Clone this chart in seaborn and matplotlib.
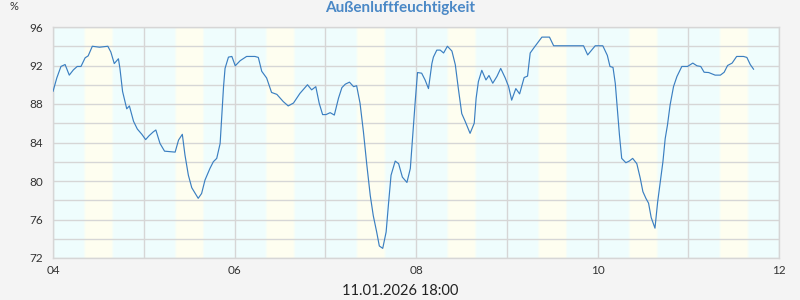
import numpy as np
import pandas as pd
import matplotlib
matplotlib.use("Agg")
import matplotlib.pyplot as plt
import matplotlib.colors as mcolors
import seaborn as sns

# ---- data (hours after 04.01. 00:00, relative humidity %) ----
hours = [0, 1, 2.1, 3.2, 4.3, 5.4, 6.4, 7.4, 8.5, 9.3, 10.4, 12.3, 14.5, 15.3, 16.2, 17.3, 17.7, 18.4,
         19.5, 20.2, 21.3, 22.3, 23.5, 24.5, 25.4, 26.5, 27.2, 28.3, 29.5, 32.3, 33.2, 34.2, 34.9, 35.8,
         36.7, 38.4, 39.3, 40.2, 41.5, 42.4, 43.3, 44.2, 44.6, 45.1, 45.5, 46.4, 47.3, 48.2, 49.5, 51.2,
         53.4, 54.3, 55.2, 56.5, 57.8, 59.2, 60.9, 62.2, 63.6, 65.3, 67.3, 68.4, 69.5, 70.4, 71.3, 72.2,
         73.3, 74.4, 75.5, 76.4, 77.3, 78.4, 79.5, 80.3, 81.2, 82.1, 83.0, 83.9, 84.7, 85.6, 86.3, 87.2,
         88.1, 88.7, 89.4, 90.5, 91.4, 92.4, 93.6, 94.5, 95.2, 95.8, 96.4, 97.5, 98.4, 99.3, 100.2, 100.6,
         101.5, 102.4, 103.3, 104.3, 105.5, 106.4, 107.2, 108.1, 109.0, 110.3, 111.4, 111.9, 112.5, 113.4,
         114.5, 115.3, 116.3, 117.4, 118.4, 119.6, 120.5, 121.3, 122.4, 123.4, 124.6, 125.5, 126.2, 127.3,
         129.3, 131.3, 132.4, 140.3, 141.4, 143.4, 145.4, 146.6, 147.3, 148.1, 148.7, 149.3, 149.8, 150.4,
         151.5, 152.4, 153.3, 154.4, 155.3, 156.0, 156.8, 157.5, 158.2, 159.2, 159.9, 160.6, 161.3, 161.9,
         162.5, 163.2, 164.1, 165.0, 166.3, 167.8, 169.2, 170.3, 171.3, 172.2, 173.4, 175.1, 176.5, 177.5,
         178.4, 179.6, 180.8, 182.6, 183.5, 184.4, 185.3]
humidity = [89.3, 90.7, 91.9, 92.1, 91.0, 91.55, 91.9, 91.9, 92.8, 93.0, 94.0, 93.9, 94.0, 93.4, 92.2, 92.7, 91.7, 89.3,
            87.5, 87.8, 86.2, 85.4, 84.85, 84.3, 84.7, 85.1, 85.3, 83.9, 83.1, 83.0, 84.25, 84.85, 82.7, 80.6,
            79.3, 78.2, 78.7, 80.1, 81.3, 82.0, 82.35, 83.9, 86.5, 89.8, 91.7, 92.87, 92.94, 91.97, 92.5, 92.94,
            92.94, 92.84, 91.4, 90.7, 89.2, 89.0, 88.25, 87.8, 88.1, 89.1, 90.0, 89.47, 89.8, 88.08, 86.9, 86.9,
            87.1, 86.85, 88.6, 89.7, 90.06, 90.27, 89.8, 89.9, 88.08, 85.1, 81.65, 78.5, 76.4, 74.7, 73.25, 73.0,
            74.7, 77.5, 80.6, 82.07, 81.8, 80.4, 79.85, 81.3, 85.1, 88.3, 91.27, 91.2, 90.5, 89.6, 92.2, 92.87,
            93.6, 93.6, 93.3, 94.0, 93.5, 92.07, 89.6, 87.0, 86.2, 84.95, 86.0, 88.6, 90.33, 91.5,
            90.5, 90.96, 90.16, 90.86, 91.7, 90.7, 89.8, 88.4, 89.6, 89.05, 90.75, 90.9, 93.3, 93.9,
            94.95, 94.95, 94.05, 94.05, 93.1, 94.05, 94.05, 93.05, 91.9, 91.8, 90.15, 87.2, 84.8, 82.35,
            81.9, 82.07, 82.35, 81.8, 80.3, 78.9, 78.2, 77.7, 76.2, 75.1, 77.8, 79.9, 82.0, 84.4,
            85.8, 87.9, 89.8, 90.85, 91.9, 91.9, 92.25, 91.97, 91.9, 91.3, 91.27, 91.0, 91.0, 91.3,
            92.0, 92.25, 92.94, 92.94, 92.84, 92.1, 91.6]

start_day = 4
days = [4, 5, 6, 7, 8, 9, 10, 11]
sunrise_h = 8.4
sunset_h = 15.8
x_ticks = [4, 6, 8, 10, 12]
x_labels = ["04", "06", "08", "10", "12"]
y_ticks = [72, 76, 80, 84, 88, 92, 96]
title = "Außenluftfeuchtigkeit"
unit = "%"
timestamp = "11.01.2026 18:00"

df = pd.DataFrame({"day": [start_day + h / 24.0 for h in hours], "humidity": humidity})

sns.set_style("white")
plt.rcParams["font.family"] = ["Lato", "DejaVu Sans"]

cyan = "#effdfd"
yellow = "#fefef0"
grid_c = "#d6d6d6"

fig = plt.figure(figsize=(8, 3), dpi=100, facecolor="#f4f4f4")
ax = fig.add_axes([53 / 800, 42 / 300, 726 / 800, 231 / 300])
ax.set_facecolor(cyan)

# daylight bands with soft edges
c0 = np.array(mcolors.to_rgb(cyan))
c1 = np.array(mcolors.to_rgb(yellow))
fade = 0.7 / 24.0
nsteps = 8
for d in days:
    a = d + sunrise_h / 24.0
    b = d + sunset_h / 24.0
    ax.axvspan(a + fade / 2, b - fade / 2, color=yellow, lw=0, zorder=0)
    for i in range(nsteps):
        t = (i + 0.5) / nsteps
        col = c0 + (c1 - c0) * t
        w = fade / nsteps
        ax.axvspan(a - fade / 2 + i * w, a - fade / 2 + (i + 1) * w, color=col, lw=0, zorder=0)
        ax.axvspan(b + fade / 2 - (i + 1) * w, b + fade / 2 - i * w, color=col, lw=0, zorder=0)

sns.lineplot(data=df, x="day", y="humidity", ax=ax, color="#3b7fc1", linewidth=0.85, zorder=3)

ax.set_xlim(4, 12)
ax.set_ylim(72, 96)
ax.set_xticks(x_ticks)
ax.set_xticks(range(4, 13), minor=True)
ax.set_xticklabels(x_labels)
ax.set_yticks(np.arange(72, 97, 2), minor=True)
ax.set_yticks(y_ticks)
ax.grid(True, which="both", color=grid_c, linewidth=1.0, zorder=1)
ax.set_axisbelow(True)
ax.tick_params(axis="both", which="both", length=0, labelsize=8.5, colors="#333333")
ax.tick_params(axis="x", pad=5)
ax.tick_params(axis="y", pad=7)
ax.set_xlabel("")
ax.set_ylabel("")
for s in ax.spines.values():
    s.set_color(grid_c)
    s.set_linewidth(1.0)

fig.text(400 / 800, 1 - 8 / 300, title, ha="center", va="center", fontsize=11,
         fontweight="bold", color="#4a88c6")
fig.text(14 / 800, 1 - 7 / 300, unit, ha="center", va="center", fontsize=8, color="#333333")
fig.text(400 / 800, 1 - 291 / 300, timestamp, ha="center", va="center", fontsize=10.5, color="#222222")

fig.savefig("out.png", dpi=100, facecolor=fig.get_facecolor())
